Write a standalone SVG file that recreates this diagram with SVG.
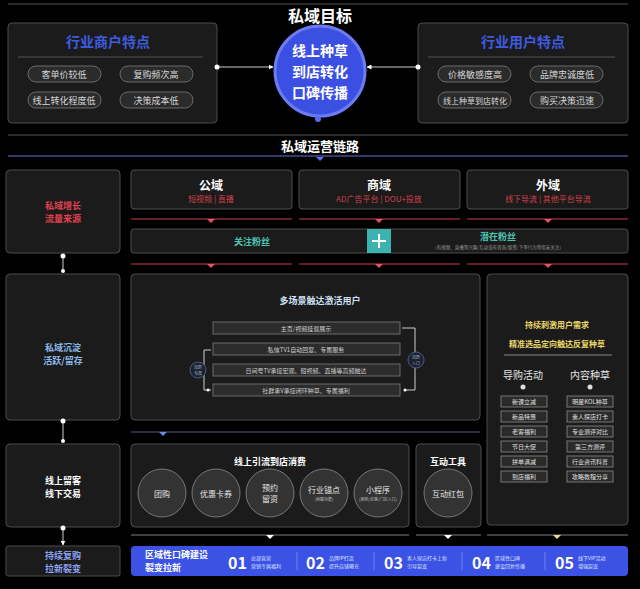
<svg xmlns="http://www.w3.org/2000/svg" width="640" height="589" viewBox="0 0 640 589">
<style>
text{font-family:"Noto Sans CJK SC","Noto Sans",sans-serif;text-anchor:middle;dominant-baseline:central}
.box{fill:#1b1b1b;stroke:#4d4d4d;stroke-width:1}
.pill{fill:#2b2b2b;stroke:#6a6a6a;stroke-width:1}
.pt{fill:#d8d8d8;font-size:9px}
.bar{fill:#2c2c2c;stroke:#6a6a6a;stroke-width:1}
.bt{fill:#cfcfcf;font-size:6px}
.sp{fill:#2a2a2a;stroke:#777;stroke-width:1}
.st{fill:#e0e0e0;font-size:6px}
.circ{fill:#333;stroke:#777;stroke-width:1}
.ct{fill:#e6e6e6;font-size:8px}
.cs{fill:#bbb;font-size:4px}
.dot{fill:#fff}
.ln{stroke:#cfcfcf;stroke-width:1;fill:none}
.num{fill:#fff;font-size:16px;font-weight:bold;text-anchor:start}
.nt{fill:#dde3ff;font-size:5px;text-anchor:start}
.lt{fill:#fff;font-size:9px;font-weight:bold;text-anchor:start}
.gt{fill:#fff;font-size:14px;font-weight:bold}
</style>
<defs>
<marker id="ar" viewBox="0 0 10 10" refX="9" refY="5" markerWidth="5" markerHeight="5" orient="auto"><path d="M0,0L10,5L0,10z" fill="#fff"/></marker>
</defs>
<rect width="640" height="589" fill="#000"/>
<line x1="8" y1="4" x2="628" y2="4" stroke="#555" stroke-width="1"/>
<text x="320" y="15" fill="#fff" font-size="16" font-weight="bold">私域目标</text>

<g id="merchant">
<rect x="8" y="23" width="209" height="100" rx="4" class="box" fill="#141414"/>
<text x="108" y="41" fill="#3e5be0" font-size="14" font-weight="bold">行业商户特点</text>
<line x1="18" y1="57" x2="203" y2="57" stroke="#555"/>
<rect x="28" y="66" width="73" height="16" rx="8" class="pill"/><text x="64" y="74" class="pt">客单价较低</text>
<rect x="120" y="66" width="73" height="16" rx="8" class="pill"/><text x="156" y="74" class="pt">复购频次高</text>
<rect x="28" y="92" width="73" height="16" rx="8" class="pill"/><text x="64" y="100" class="pt">线上转化程度低</text>
<rect x="120" y="92" width="73" height="16" rx="8" class="pill"/><text x="156" y="100" class="pt">决策成本低</text>
</g>

<g id="goal">
<circle cx="320" cy="71" r="45" fill="#3b4fe2" stroke="#6b7cf0" stroke-width="3"/>
<text x="320" y="50" class="gt">线上种草</text>
<text x="320" y="71" class="gt">到店转化</text>
<text x="320" y="92" class="gt">口碑传播</text>
<circle cx="318" cy="119" r="3" fill="#5a6cf0"/>
</g>

<g id="user">
<rect x="418" y="23" width="210" height="100" rx="4" class="box" fill="#141414"/>
<text x="523" y="41" fill="#3e5be0" font-size="14" font-weight="bold">行业用户特点</text>
<line x1="428" y1="57" x2="615" y2="57" stroke="#555"/>
<rect x="438" y="66" width="73" height="16" rx="8" class="pill"/><text x="475" y="74" class="pt">价格敏感度高</text>
<rect x="530" y="66" width="73" height="16" rx="8" class="pill"/><text x="567" y="74" class="pt">品牌忠诚度低</text>
<rect x="438" y="92" width="73" height="16" rx="8" class="pill"/><text x="475" y="100" class="pt" style="font-size:8px">线上种草到店转化</text>
<rect x="530" y="92" width="73" height="16" rx="8" class="pill"/><text x="567" y="100" class="pt">购买决策迅速</text>
</g>

<line x1="8" y1="135" x2="628" y2="135" stroke="#555"/>
<text x="320" y="145" fill="#fff" font-size="13" font-weight="bold">私域运营链路</text>
<line x1="8" y1="156" x2="628" y2="156" stroke="#4a4a8a" stroke-width="1.5"/>
<path d="M316,157L324,157L320,161z" fill="#5a6cf0"/>

<g id="src-left">
<rect x="6" y="170" width="114" height="83" rx="4" class="box"/>
<text x="63" y="205" fill="#e0404e" font-size="9" font-weight="bold">私域增长</text>
<text x="63" y="218" fill="#e0404e" font-size="9" font-weight="bold">流量来源</text>
</g>
<g id="public">
<rect x="131" y="170" width="161" height="39" rx="3" class="box"/>
<text x="211" y="184" fill="#fff" font-size="12" font-weight="bold">公域</text>
<text x="211" y="198" fill="#d0404c" font-size="8">短视频 | 直播</text>
</g>
<g id="commerce">
<rect x="299" y="170" width="161" height="39" rx="3" class="box"/>
<text x="379" y="184" fill="#fff" font-size="12" font-weight="bold">商域</text>
<text x="379" y="198" fill="#d0404c" font-size="8">AD广告平台 | DOU+投放</text>
</g>
<g id="external">
<rect x="467" y="170" width="161" height="39" rx="3" class="box"/>
<text x="548" y="184" fill="#fff" font-size="12" font-weight="bold">外域</text>
<text x="548" y="198" fill="#d0404c" font-size="8">线下导流 | 其他平台导流</text>
</g>
<g id="fans">
<rect x="131" y="229" width="497" height="24" rx="3" class="box"/>
<text x="252" y="241" fill="#4cc4b4" font-size="9" font-weight="bold">关注粉丝</text>
<rect x="367" y="229" width="24" height="24" fill="#3bb3b0"/>
<path d="M379,234V248M372,241H386" stroke="#fff" stroke-width="2"/>
<text x="498" y="236" fill="#4cc4b4" font-size="9" font-weight="bold">潜在粉丝</text>
<text x="498" y="247" fill="#999" font-size="4.5">（有视频、直播等兴趣/互动或有咨询/留资/下单行为等但未关注）</text>
</g>

<g id="retain-left">
<rect x="6" y="274" width="114" height="146" rx="4" class="box"/>
<text x="63" y="347" fill="#8ab8e8" font-size="9" font-weight="bold">私域沉淀</text>
<text x="63" y="360" fill="#8ab8e8" font-size="9" font-weight="bold">活跃/留存</text>
</g>
<g id="activate">
<rect x="131" y="274" width="349" height="146" rx="4" class="box"/>
<text x="320" y="300" fill="#cfe0f5" font-size="9" font-weight="bold">多场景触达激活用户</text>
<rect x="213" y="322" width="187" height="12" class="bar"/><text x="306" y="328" class="bt">主页/视频挂载展示</text>
<rect x="213" y="343" width="187" height="12" class="bar"/><text x="306" y="349" class="bt">私信TV1自动回复、专属服务</text>
<rect x="213" y="364" width="187" height="12" class="bar"/><text x="306" y="370" class="bt">日间号TV承接宏观、短视频、直播等高频触达</text>
<rect x="213" y="384" width="187" height="12" class="bar"/><text x="306" y="390" class="bt">社群承V承接闭环种草、专属福利</text>
<path d="M211,350H204V390H211" class="ln" stroke="#888"/>
<circle cx="198" cy="370" r="8" fill="#1e2230" stroke="#4a5a80"/>
<text x="198" y="367" fill="#9ab" font-size="4">加群</text><text x="198" y="373" fill="#9ab" font-size="4">专属</text>
<circle cx="208" cy="390" r="1.5" class="dot"/>
<path d="M402,328H415V390H405" class="ln" stroke="#888"/>
<circle cx="416" cy="360" r="8" fill="#1e2230" stroke="#4a5a80"/>
<text x="416" y="357" fill="#9ab" font-size="4">加群</text><text x="416" y="363" fill="#9ab" font-size="4">入口</text>
<circle cx="405" cy="390" r="1.5" class="dot"/>
</g>
<g id="seed">
<rect x="487" y="274" width="141" height="251" rx="4" class="box"/>
<text x="557" y="324" fill="#ecd86a" font-size="8" font-weight="bold">持续刺激用户需求</text>
<text x="557" y="343" fill="#ecd86a" font-size="8" font-weight="bold">精准选品定向触达反复种草</text>
<line x1="504" y1="355" x2="612" y2="355" stroke="#666" stroke-width="1.5"/>
<text x="523" y="374" fill="#e6e6e6" font-size="10">导购活动</text>
<text x="590" y="374" fill="#e6e6e6" font-size="10">内容种草</text>
<circle cx="523" cy="387" r="2.5" fill="#ddd"/><circle cx="590" cy="387" r="2.5" fill="#ddd"/>
<rect x="501" y="396" width="46" height="11" class="sp"/><text x="524" y="401.5" class="st">新课立减</text>
<rect x="501" y="411" width="46" height="11" class="sp"/><text x="524" y="416.5" class="st">新品特惠</text>
<rect x="501" y="426" width="46" height="11" class="sp"/><text x="524" y="431.5" class="st">老客福利</text>
<rect x="501" y="441" width="46" height="11" class="sp"/><text x="524" y="446.5" class="st">节日大促</text>
<rect x="501" y="456" width="46" height="11" class="sp"/><text x="524" y="461.5" class="st">拼单满减</text>
<rect x="501" y="471" width="46" height="11" class="sp"/><text x="524" y="476.5" class="st">到店福利</text>
<rect x="567" y="396" width="46" height="11" class="sp"/><text x="590" y="401.5" class="st">明星KOL种草</text>
<rect x="567" y="411" width="46" height="11" class="sp"/><text x="590" y="416.5" class="st">素人探店打卡</text>
<rect x="567" y="426" width="46" height="11" class="sp"/><text x="590" y="431.5" class="st">专业测评对比</text>
<rect x="567" y="441" width="46" height="11" class="sp"/><text x="590" y="446.5" class="st">第三方测评</text>
<rect x="567" y="456" width="46" height="11" class="sp"/><text x="590" y="461.5" class="st">行业资讯科普</text>
<rect x="567" y="471" width="46" height="11" class="sp"/><text x="590" y="476.5" class="st">攻略教程分享</text>
</g>

<g id="trade-left">
<rect x="6" y="444" width="114" height="83" rx="4" class="box"/>
<text x="63" y="480" fill="#fff" font-size="9" font-weight="bold">线上留客</text>
<text x="63" y="493" fill="#fff" font-size="9" font-weight="bold">线下交易</text>
</g>
<g id="offline">
<rect x="131" y="444" width="278" height="83" rx="4" class="box"/>
<text x="270" y="461" fill="#fff" font-size="9" font-weight="bold">线上引流到店消费</text>
<circle cx="162" cy="493" r="24" class="circ"/><text x="162" y="493" class="ct">团购</text>
<circle cx="216" cy="493" r="24" class="circ"/><text x="216" y="493" class="ct">优惠卡券</text>
<circle cx="270" cy="493" r="24" class="circ"/><text x="270" y="487" class="ct">预约</text><text x="270" y="498" class="ct">留资</text>
<circle cx="324" cy="493" r="24" class="circ"/><text x="324" y="489" class="ct">行业锚点</text><text x="324" y="499" class="cs">(地图功能)</text>
<circle cx="378" cy="493" r="24" class="circ"/><text x="378" y="489" class="ct">小程序</text><text x="378" y="499" class="cs">(团购/优惠/门店入口)</text>
</g>
<g id="tools">
<rect x="416" y="444" width="65" height="83" rx="4" class="box"/>
<text x="448" y="461" fill="#fff" font-size="9" font-weight="bold">互动工具</text>
<circle cx="448" cy="493" r="24" class="circ"/><text x="448" y="493" class="ct">互动红包</text>
</g>

<g id="repurchase-left">
<rect x="6" y="546" width="114" height="30" rx="2" class="box"/>
<text x="63" y="555" fill="#8ea2f2" font-size="9" font-weight="bold">持续复购</text>
<text x="63" y="568" fill="#8ea2f2" font-size="9" font-weight="bold">拉新裂变</text>
</g>
<g id="word-of-mouth">
<rect x="131" y="546" width="497" height="30" rx="4" fill="#3b52e4"/>
<text x="145" y="554" class="lt">区域性口碑建设</text>
<text x="145" y="567" class="lt">裂变拉新</text>
<text x="228" y="562" class="num">01</text><text x="251" y="557" class="nt">总部直营</text><text x="251" y="565" class="nt">营销专属福利</text>
<line x1="297" y1="552" x2="297" y2="570" stroke="#6d80f0"/>
<text x="306" y="562" class="num">02</text><text x="329" y="557" class="nt">品牌IP打造</text><text x="329" y="565" class="nt">提升店铺曝光</text>
<line x1="374" y1="552" x2="374" y2="570" stroke="#6d80f0"/>
<text x="384" y="562" class="num">03</text><text x="407" y="557" class="nt">素人探店打卡上新</text><text x="407" y="565" class="nt">引导裂变</text>
<line x1="462" y1="552" x2="462" y2="570" stroke="#6d80f0"/>
<text x="472" y="562" class="num">04</text><text x="495" y="557" class="nt">区域性口碑</text><text x="495" y="565" class="nt">建设回复传播</text>
<line x1="545" y1="552" x2="545" y2="570" stroke="#6d80f0"/>
<text x="555" y="562" class="num">05</text><text x="578" y="557" class="nt">线下VIP活动</text><text x="578" y="565" class="nt">增强裂变</text>
</g>

<g id="connectors">
<line x1="217" y1="67" x2="273" y2="67" class="ln" marker-end="url(#ar)"/>
<circle cx="217" cy="67" r="2.5" class="dot"/>
<line x1="418" y1="67" x2="367" y2="67" class="ln" marker-end="url(#ar)"/>
<circle cx="418" cy="67" r="2.5" class="dot"/>
<g stroke="#8a2a35" stroke-width="1.5">
<line x1="131" y1="219" x2="292" y2="219"/><line x1="299" y1="219" x2="460" y2="219"/><line x1="467" y1="219" x2="628" y2="219"/>
<line x1="131" y1="264" x2="292" y2="264"/><line x1="299" y1="264" x2="460" y2="264"/><line x1="467" y1="264" x2="628" y2="264"/>
</g>
<g fill="#e8506a">
<path d="M207,219H215L211,223z"/><path d="M375,219H383L379,223z"/><path d="M544,219H552L548,223z"/>
<path d="M207,264H215L211,268z"/><path d="M375,264H383L379,268z"/><path d="M544,264H552L548,268z"/>
</g>
<line x1="131" y1="432" x2="480" y2="432" stroke="#3a3a5a" stroke-width="1.5"/>
<path d="M159,432H167L163,436z" fill="#6a8ae0"/>
<g stroke="#555" stroke-width="1.5">
<line x1="131" y1="535" x2="409" y2="535"/><line x1="416" y1="535" x2="481" y2="535"/><line x1="487" y1="535" x2="628" y2="535"/>
</g>
<path d="M266,535H274L270,539z" fill="#fff"/>
<path d="M444,535H452L448,539z" fill="#fff"/>
<path d="M553,535H561L557,539z" fill="#e8e08a"/>
<line x1="63" y1="255" x2="63" y2="272" class="ln"/>
<circle cx="63" cy="256" r="2.5" class="dot"/><circle cx="63" cy="271" r="2" class="dot"/>
<line x1="63" y1="421" x2="63" y2="442" class="ln"/>
<circle cx="63" cy="421" r="2.5" class="dot"/><circle cx="63" cy="441" r="2" class="dot"/>
<line x1="63" y1="527" x2="63" y2="545" class="ln" marker-end="url(#ar)"/>
<circle cx="63" cy="528" r="2.5" class="dot"/>
</g>
</svg>
